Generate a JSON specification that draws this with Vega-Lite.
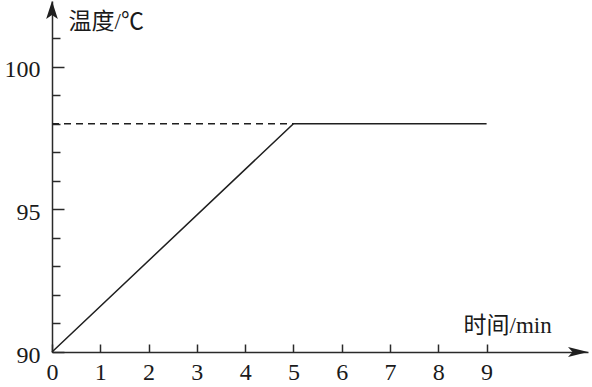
{
  "$schema": "https://vega.github.io/schema/vega-lite/v6.json",
  "width": 536,
  "height": 351,
  "autosize": {"type": "none"},
  "padding": {"left": 52, "top": 1, "right": 4, "bottom": 35},
  "background": "white",
  "config": {
    "view": {"stroke": null},
    "font": "Liberation Serif",
    "axis": {
      "grid": false,
      "domainColor": "#2a2a2a",
      "tickColor": "#2a2a2a",
      "domainWidth": 1.5,
      "tickWidth": 1.5,
      "labelFont": "Liberation Serif",
      "labelFontSize": 24,
      "labelColor": "#1a1a1a",
      "labelFlush": false,
      "labelOverlap": false,
      "titleFont": "Liberation Serif, Noto Sans CJK SC",
      "titleFontSize": 23,
      "titleFontWeight": "normal",
      "titleColor": "#1a1a1a"
    }
  },
  "datasets": {
    "curve": [{"t": 0, "T": 90}, {"t": 5, "T": 98}, {"t": 9, "T": 98}],
    "dashed": [{"t": 0, "T": 98}, {"t": 5, "T": 98}],
    "yArrow": [{"t": 0, "T": 102.3}],
    "xArrow": [{"t": 11.1, "T": 90}]
  },
  "resolve": {"axis": {"y": "independent"}},
  "encoding": {
    "x": {
      "field": "t", "type": "quantitative",
      "scale": {"domain": [0, 11.1], "nice": false, "zero": false},
      "axis": {
        "values": [0, 1, 2, 3, 4, 5, 6, 7, 8, 9],
        "tickSize": -8,
        "labelPadding": 16,
        "labelBaseline": "top",
        "labelFont": "Liberation Serif",
        "labelFontSize": 24,
        "title": "时间/min",
        "titleAngle": 0,
        "titleX": 411,
        "titleY": -27,
        "titleAlign": "left",
        "titleBaseline": "middle"
      }
    }
  },
  "layer": [
    {
      "data": {"name": "curve"},
      "mark": {"type": "line", "color": "#1f1f1f", "strokeWidth": 1.5},
      "encoding": {
        "y": {
          "field": "T", "type": "quantitative",
          "scale": {"domain": [90, 102.3], "nice": false, "zero": false},
          "axis": {
            "orient": "left",
            "values": [90, 95, 100],
            "tickSize": -12,
            "labelPadding": 24,
            "labelOffset": 3,
            "labelFont": "Liberation Serif",
            "labelFontSize": 24,
            "title": "温度/℃",
            "titleAngle": 0,
            "titleX": 16,
            "titleY": 20,
            "titleAlign": "left",
            "titleBaseline": "middle"
          }
        }
      }
    },
    {
      "data": {"name": "dashed"},
      "mark": {"type": "line", "color": "#1f1f1f", "strokeWidth": 1.5, "strokeDash": [7, 5]},
      "encoding": {
        "y": {
          "field": "T", "type": "quantitative",
          "axis": {
            "orient": "left",
            "values": [91, 92, 93, 94, 96, 97, 98, 99, 101],
            "tickSize": -8,
            "labels": false,
            "domain": false,
            "title": null
          }
        }
      }
    },
    {
      "data": {"name": "yArrow"},
      "mark": {"type": "point", "filled": true, "opacity": 1, "color": "#1f1f1f", "size": 324, "yOffset": 9, "shape": "M0,-1 L0.65,1 L0,0.55 L-0.65,1 Z"},
      "encoding": {
        "y": {"field": "T", "type": "quantitative", "axis": null}
      }
    },
    {
      "data": {"name": "xArrow"},
      "mark": {"type": "point", "filled": true, "opacity": 1, "color": "#1f1f1f", "size": 400, "xOffset": -10, "shape": "M1,0 L-1,0.5 L-0.55,0 L-1,-0.5 Z"},
      "encoding": {
        "y": {"field": "T", "type": "quantitative", "axis": null}
      }
    }
  ]
}
